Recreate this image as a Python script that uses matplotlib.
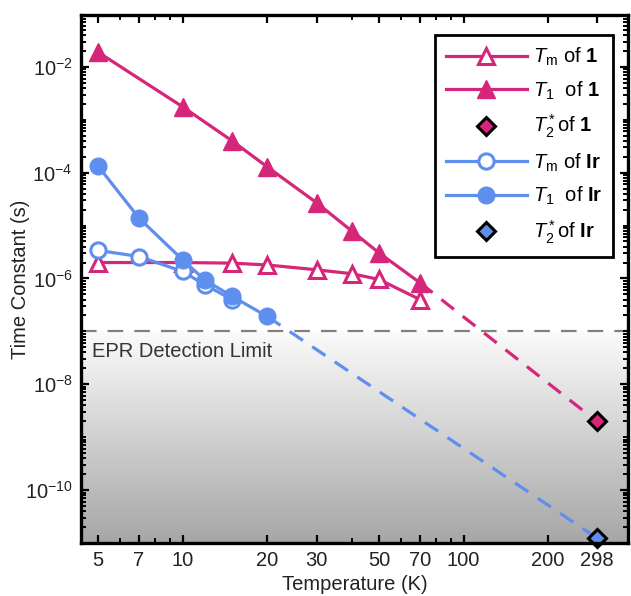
import numpy as np
import matplotlib
matplotlib.use("Agg")
import matplotlib.pyplot as plt
from matplotlib.colors import LinearSegmentedColormap
from matplotlib.ticker import FixedLocator, LogLocator, NullFormatter

plt.rcParams["font.family"] = ["Liberation Sans", "DejaVu Sans"]
plt.rcParams["mathtext.fontset"] = "custom"
plt.rcParams["mathtext.rm"] = "Liberation Sans"
plt.rcParams["mathtext.it"] = "Liberation Sans:italic"
plt.rcParams["mathtext.bf"] = "Liberation Sans:bold"

PINK = "#d6267a"
BLUE = "#5f8fee"
FS = 14.5

# compound 1
T_tm1 = [5, 10, 15, 20, 30, 40, 50, 70]
tm1 = [2.0e-6, 2.0e-6, 1.95e-6, 1.8e-6, 1.46e-6, 1.23e-6, 9.6e-7, 4.0e-7]
T_t11 = [5, 10, 15, 20, 30, 40, 50, 70]
t11 = [1.9e-2, 1.76e-3, 4.0e-4, 1.29e-4, 2.7e-5, 7.9e-6, 3.05e-6, 8.3e-7]
T2s_1 = 2.0e-9

# Ir
T_tmIr = [5, 7, 10, 12, 15]
tmIr = [3.4e-6, 2.6e-6, 1.36e-6, 7.6e-7, 4.0e-7]
T_t1Ir = [5, 7, 10, 12, 15, 20]
t1Ir = [1.34e-4, 1.38e-5, 2.25e-6, 9.4e-7, 4.6e-7, 1.92e-7]
T2s_Ir = 1.25e-11

T_room = 298
det_limit = 1e-7

xticks = [5, 7, 10, 20, 30, 50, 70, 100, 200, 298]
xminor = [6, 8, 9, 40, 60, 80, 90]
yticks = [1e-10, 1e-8, 1e-6, 1e-4, 1e-2]

fig = plt.figure(figsize=(6.31, 5.96), dpi=100)
ax = fig.add_axes([81 / 631, 1 - 543 / 596, 547 / 631, 528 / 596])
ax.set_xscale("log")
ax.set_yscale("log")
ax.set_xlim(4.35, 385)
ax.set_ylim(1e-11, 10 ** -1.02)
ax.set_autoscale_on(False)

# grey gradient below the detection limit
frac = (np.log10(det_limit) + 11) / (11 - 1.02)
grey = LinearSegmentedColormap.from_list("g", ["#a6a6a6", "#fbfbfb"])
ax.imshow(np.linspace(0, 1, 256).reshape(-1, 1), cmap=grey, aspect="auto",
          origin="lower", extent=(0, 1, 0, frac), transform=ax.transAxes,
          zorder=0)
ax.axhline(det_limit, color="#808080", lw=1.6, dashes=(7, 5), zorder=1)
ax.text(0.02, 0.362, "EPR Detection Limit", transform=ax.transAxes,
        fontsize=FS, color="#333333", va="center", ha="left")

# extrapolations to room temperature
ax.plot([T_t11[-1], T_room], [t11[-1], T2s_1], color=PINK, lw=2.3,
        dashes=(5, 3.5), zorder=2)
ax.plot([T_t1Ir[-1], T_room], [t1Ir[-1], T2s_Ir], color=BLUE, lw=2.3,
        dashes=(5, 3.5), zorder=2)

ax.plot(T_tm1, tm1, color=PINK, lw=2.3, marker="^", ms=12, mfc="white",
        mec=PINK, mew=2.2, label=r"$T_\mathrm{m}$ of $\mathbf{1}$", zorder=3)
ax.plot(T_t11, t11, color=PINK, lw=2.3, marker="^", ms=13, mfc=PINK,
        mec=PINK, label=r"$T_1$  of $\mathbf{1}$", zorder=3)
ax.plot([T_room], [T2s_1], ls="none", marker="D", ms=9.5, mfc=PINK,
        mec="black", mew=2.2, label=r"$T_2^*$of $\mathbf{1}$", zorder=5,
        clip_on=False)
ax.plot(T_tmIr, tmIr, color=BLUE, lw=2.3, marker="o", ms=11, mfc="white",
        mec=BLUE, mew=2.2, label=r"$T_\mathrm{m}$ of $\mathbf{Ir}$", zorder=4)
ax.plot(T_t1Ir, t1Ir, color=BLUE, lw=2.3, marker="o", ms=12, mfc=BLUE,
        mec=BLUE, label=r"$T_1$  of $\mathbf{Ir}$", zorder=4)
ax.plot([T_room], [T2s_Ir], ls="none", marker="D", ms=9.5, mfc=BLUE,
        mec="black", mew=2.2, label=r"$T_2^*$of $\mathbf{Ir}$", zorder=5,
        clip_on=False)

# axes styling
ax.xaxis.set_major_locator(FixedLocator(xticks))
ax.xaxis.set_minor_locator(FixedLocator(xminor))
ax.set_xticklabels([str(t) for t in xticks])
ax.xaxis.set_minor_formatter(NullFormatter())
ax.yaxis.set_major_locator(FixedLocator(yticks))
ax.set_yticklabels([rf"$10^{{{int(np.log10(v))}}}$" for v in yticks])
ax.yaxis.set_minor_locator(LogLocator(base=10, subs=np.arange(1, 10),
                                      numticks=100))
ax.yaxis.set_minor_formatter(NullFormatter())
ax.tick_params(which="both", direction="in", top=True, right=True,
               labelsize=FS, colors="black", labelcolor="#222222")
ax.tick_params(which="major", length=6, width=1.6, pad=6)
ax.tick_params(which="minor", length=3.5, width=1.4)
for s in ax.spines.values():
    s.set_linewidth(2.4)
    s.set_zorder(6)

ax.set_xlabel("Temperature (K)", fontsize=FS, color="#222222", labelpad=3)
ax.set_ylabel("Time Constant (s)", fontsize=FS, color="#222222")
ax.yaxis.set_label_coords(-0.093, 0.5)

leg = ax.legend(loc="upper right", bbox_to_anchor=(0.973, 0.962),
                borderaxespad=0, fontsize=FS, handlelength=4.0,
                labelspacing=0.55, fancybox=False, framealpha=1,
                edgecolor="black", handletextpad=0.3, borderpad=0.55)
leg.get_frame().set_linewidth(2.0)

fig.savefig("out.png", dpi=100)
